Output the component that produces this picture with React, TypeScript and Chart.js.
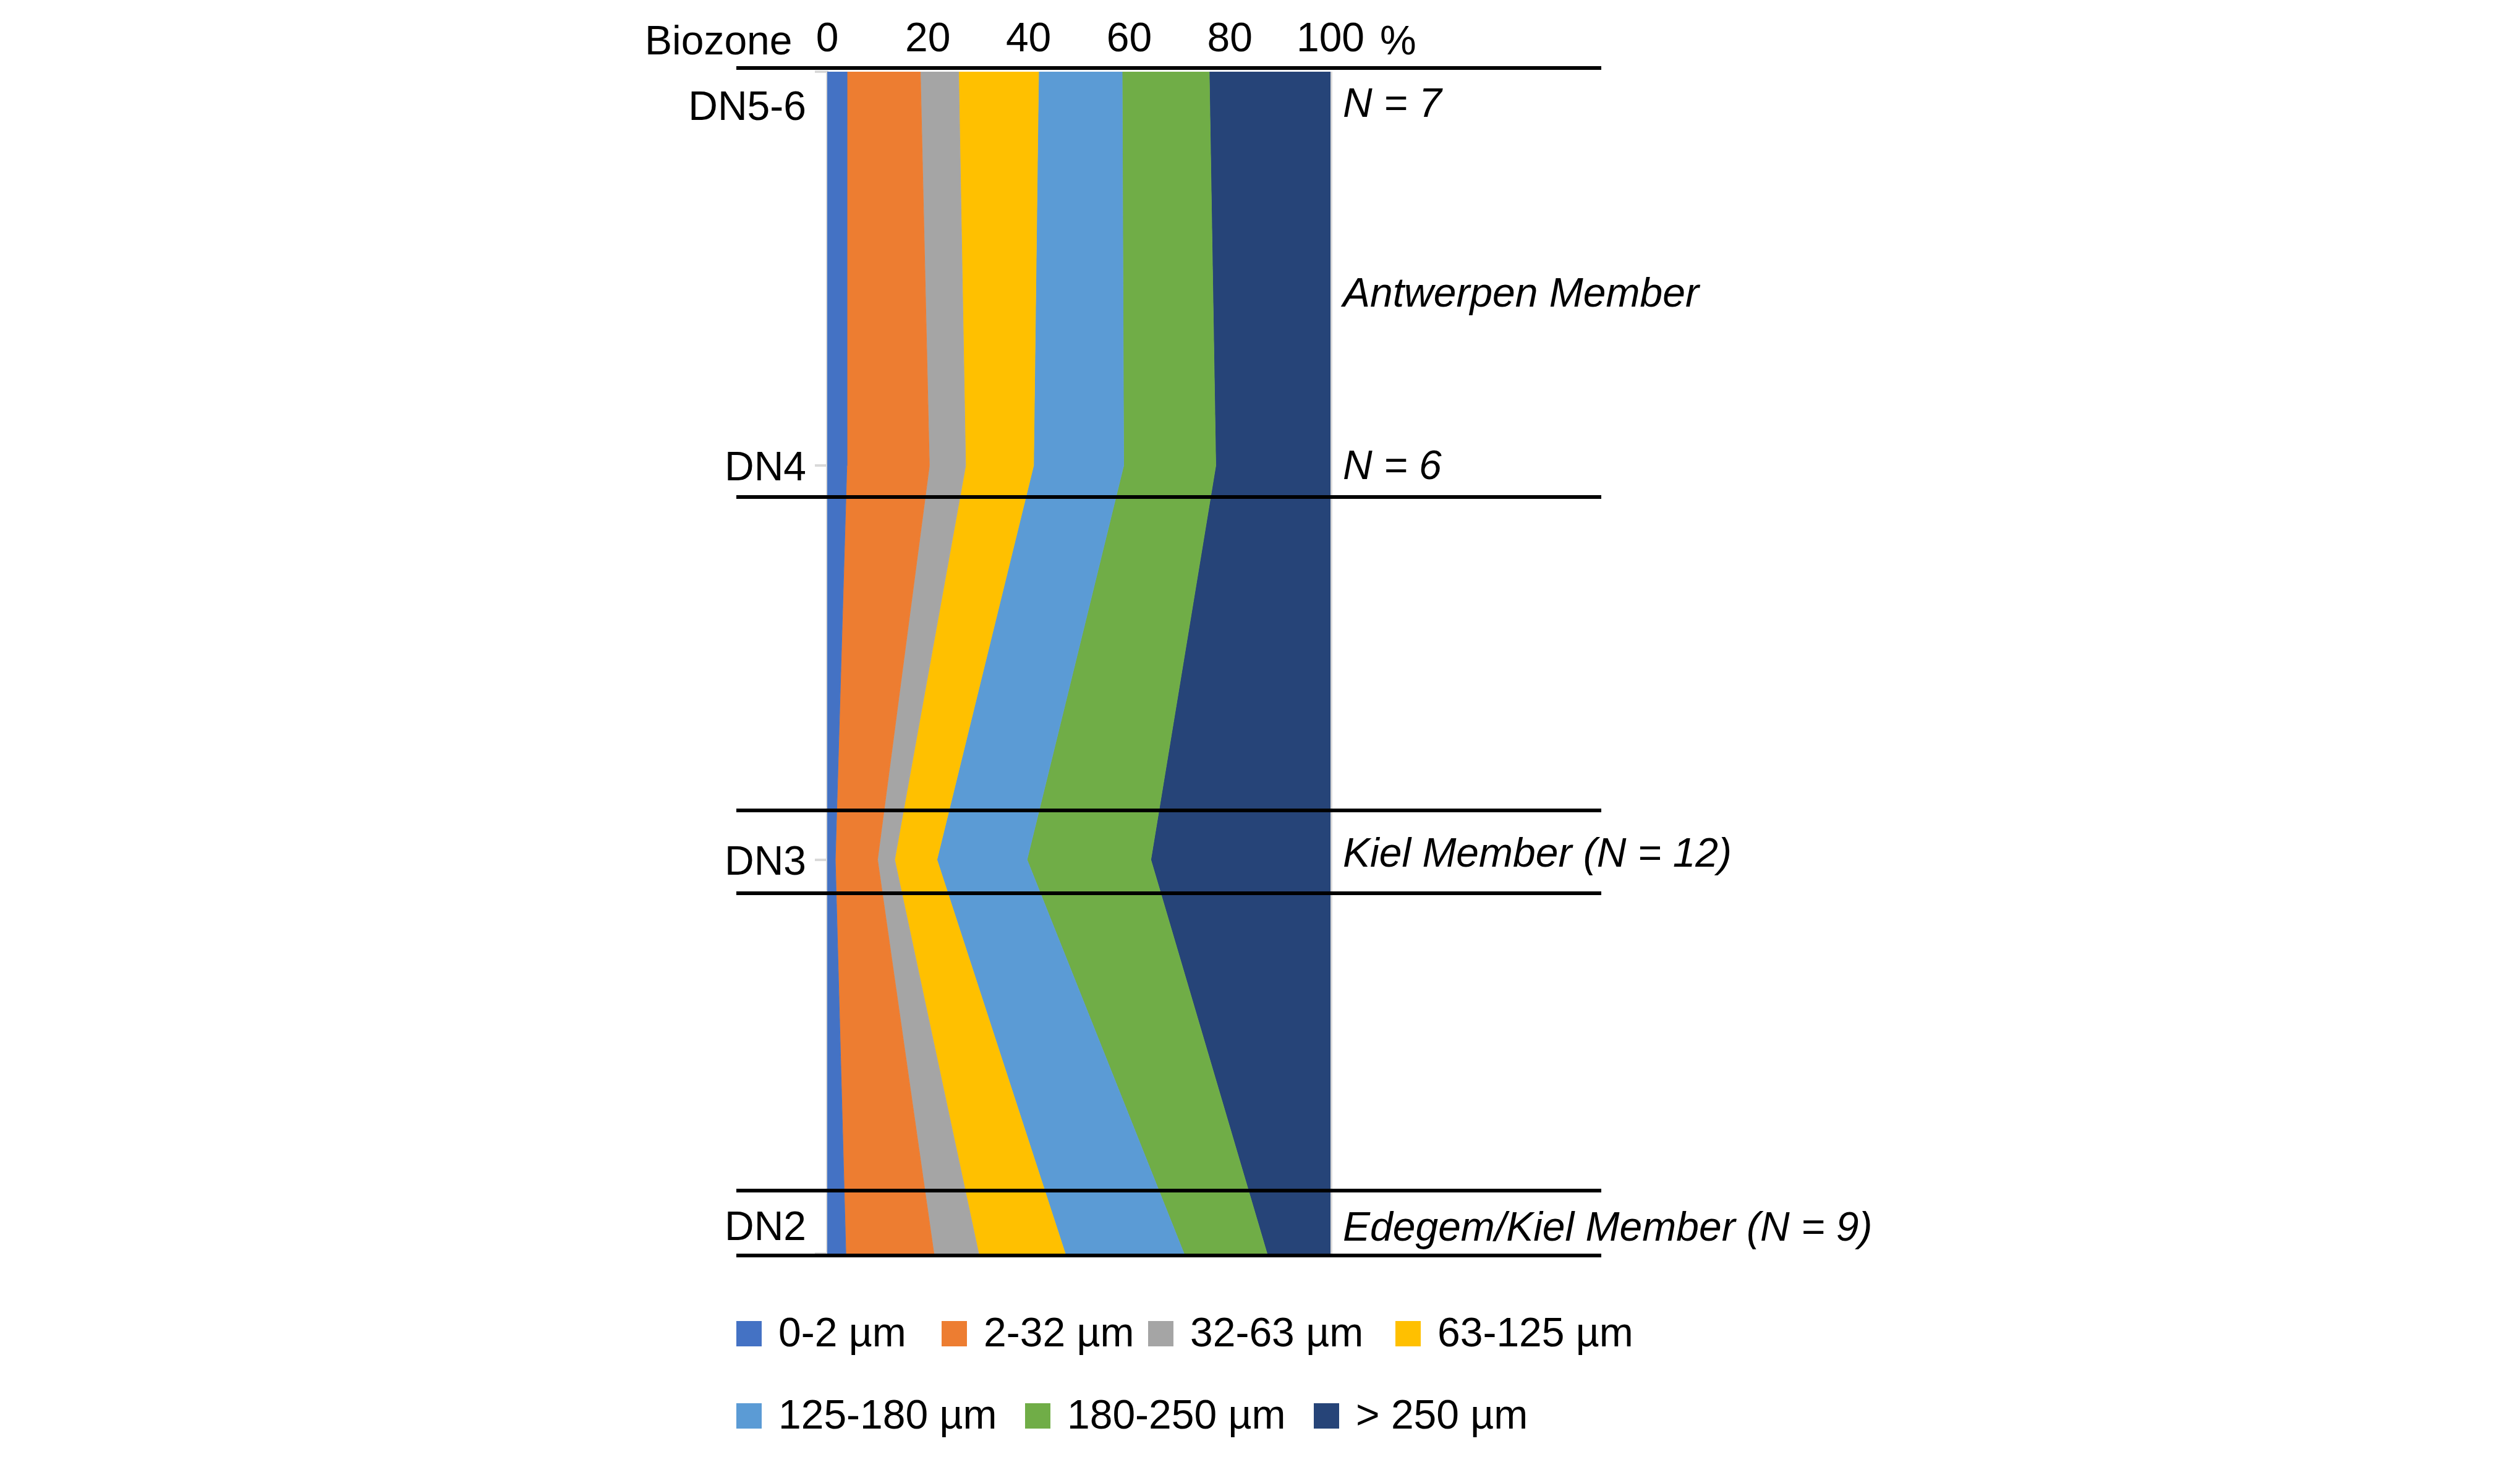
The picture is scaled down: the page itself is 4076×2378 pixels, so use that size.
import React, { useEffect, useRef } from 'react';
import { Chart, registerables } from 'chart.js';

Chart.register(...registerables);

const FONT = "'Liberation Sans', Arial, sans-serif";

// biozones from top to bottom of the section
const biozones = ['DN5-6', 'DN4', 'DN3', 'DN2'];
const sizeClasses = ['0-2 µm', '2-32 µm', '32-63 µm', '63-125 µm', '125-180 µm', '180-250 µm', '> 250 µm'];
const classColors = ['#4472C4', '#ED7D31', '#A5A5A5', '#FFC000', '#5B9BD5', '#70AD47', '#264478'];

// grain size fractions in %, one value per biozone
const clay = [3.9, 3.9, 1.6, 3.7];
const fineSilt = [14.6, 16.4, 8.4, 17.5];
const coarseSilt = [7.6, 7.2, 3.4, 8.9];
const veryFineSand = [15.9, 13.5, 8.4, 17.2];
const fineSand = [16.6, 17.9, 17.9, 23.6];
const mediumSand = [17.3, 18.3, 24.6, 16.5];
const coarseSand = [24.1, 22.8, 35.7, 12.6];
const fractions = [clay, fineSilt, coarseSilt, veryFineSand, fineSand, mediumSand, coarseSand];

const percentTicks = [0, 20, 40, 60, 80, 100];

// member boundaries, in biozone-axis units
const boundaries = [-0.01, 1.08, 1.875, 2.085, 2.84, 3.005];

// labels on the right of the column (baseline in px)
const memberNotes = [
    { text: 'N = 7', y: 189 },
    { text: 'Antwerpen Member', y: 496 },
    { text: 'N = 6', y: 775 },
    { text: 'Kiel Member (N = 12)', y: 1402 },
    { text: 'Edegem/Kiel Member (N = 9)', y: 2007 },
];

// legend layout: [x, top] per entry
const legendSpots = [
    [1191, 2137], [1523, 2137], [1857, 2137], [2257, 2137],
    [1191, 2270], [1658, 2270], [2125, 2270],
];

const overlay = {
    id: 'overlay',
    afterDraw(chart: any) {
        const { ctx, chartArea, scales } = chart;
        const yS = scales.y;
        ctx.save();

        // faint frame on the right side of the plot
        ctx.strokeStyle = '#D9D9D9';
        ctx.lineWidth = 3;
        ctx.beginPath();
        ctx.moveTo(chartArea.right + 1.5, chartArea.top);
        ctx.lineTo(chartArea.right + 1.5, chartArea.bottom);
        ctx.stroke();

        ctx.fillStyle = '#000';
        ctx.font = `66px ${FONT}`;
        ctx.textBaseline = 'alphabetic';
        ctx.textAlign = 'left';
        ctx.fillText('Biozone', 1043, 88);
        ctx.fillText('%', 2232, 88);

        // biozone names, end labels kept inside the column
        ctx.textAlign = 'right';
        biozones.forEach((name, i) => {
            let y = yS.getPixelForValue(i);
            y = Math.min(Math.max(y, chartArea.top + 54), chartArea.bottom - 46);
            ctx.fillText(name, chartArea.left - 34, y + 24);
        });

        // member boundary lines
        ctx.strokeStyle = '#000';
        ctx.lineWidth = 6;
        boundaries.forEach((v) => {
            const y = Math.round(yS.getPixelForValue(v));
            ctx.beginPath();
            ctx.moveTo(1191, y);
            ctx.lineTo(2590, y);
            ctx.stroke();
        });

        ctx.font = `italic 66px ${FONT}`;
        ctx.textAlign = 'left';
        memberNotes.forEach((n) => ctx.fillText(n.text, chartArea.right + 20, n.y));

        // legend
        ctx.font = `66px ${FONT}`;
        sizeClasses.forEach((label, i) => {
            const [x, top] = legendSpots[i];
            ctx.fillStyle = classColors[i];
            ctx.fillRect(x, top, 41, 41);
            ctx.fillStyle = '#000';
            ctx.fillText(label, x + 68, top + 41);
        });

        ctx.restore();
    },
};

const App: React.FC = () => {
    const chartRef = useRef<HTMLCanvasElement>(null);

    useEffect(() => {
        if (!chartRef.current) return;
        Chart.defaults.font.family = FONT;

        const chart = new Chart(chartRef.current, {
            type: 'line',
            data: {
                labels: biozones,
                datasets: fractions.map((vals, i) => ({
                    label: sizeClasses[i],
                    data: vals,
                    backgroundColor: classColors[i],
                    borderColor: classColors[i],
                    borderWidth: 1,
                    pointRadius: 0,
                    tension: 0,
                    fill: i === 0 ? 'origin' : '-1',
                })),
            },
            options: {
                indexAxis: 'y',
                responsive: false,
                devicePixelRatio: 1,
                animation: false,
                layout: { padding: { left: 0, top: 0, right: 1924, bottom: 350 } },
                scales: {
                    x: {
                        type: 'linear',
                        position: 'top',
                        stacked: true,
                        min: 0,
                        max: 100,
                        afterBuildTicks: (s: any) => {
                            s.ticks = percentTicks.map((v) => ({ value: v }));
                        },
                        afterFit: (s: any) => {
                            s.height = 116;
                        },
                        grid: { display: false, drawTicks: false },
                        border: { display: false },
                        ticks: {
                            color: '#000',
                            padding: 12,
                            maxRotation: 0,
                            font: { size: 66, family: FONT },
                        },
                    },
                    y: {
                        type: 'category',
                        offset: false,
                        afterFit: (s: any) => {
                            s.width = 1338;
                        },
                        grid: {
                            display: true,
                            drawOnChartArea: false,
                            drawTicks: true,
                            tickLength: 20,
                            color: '#D9D9D9',
                            lineWidth: 4,
                        },
                        border: { display: true, color: '#D9D9D9', width: 4 },
                        ticks: { display: false },
                    },
                },
                plugins: {
                    legend: { display: false },
                    tooltip: { enabled: false },
                },
            },
            plugins: [overlay],
        });

        return () => chart.destroy();
    }, []);

    return (
        <div style={{ position: 'absolute', left: 0, top: 0, width: 4076, height: 2378, background: '#fff' }}>
            <canvas ref={chartRef} width={4076} height={2378}></canvas>
        </div>
    );
};

export default App;
